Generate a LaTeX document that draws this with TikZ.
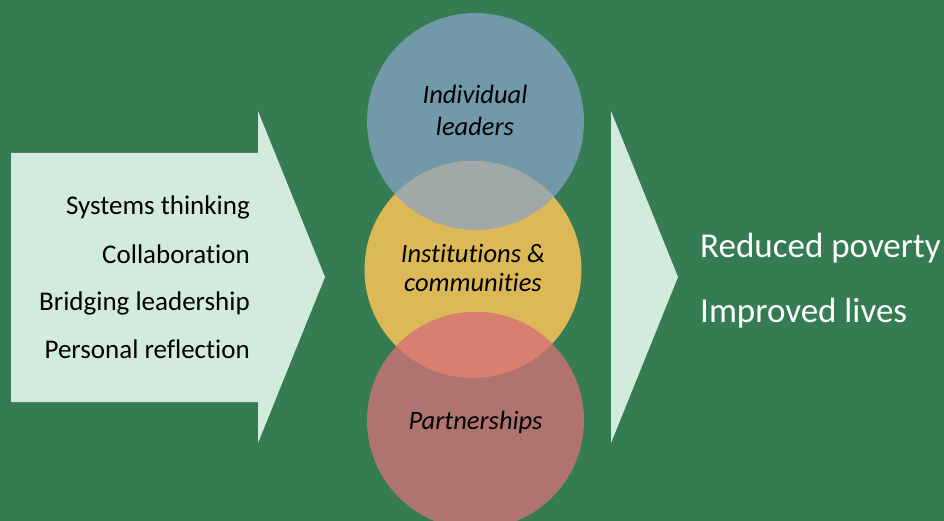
\documentclass[tikz,border=0pt]{standalone}
\usepackage{fontspec}
\setmainfont{Carlito}[Ligatures=NoCommon]
\usepackage{tikz}
\usetikzlibrary{positioning}

\definecolor{bggreen}{HTML}{367C52}
\definecolor{arrowfill}{HTML}{D3EBDC}
\definecolor{leaderblue}{HTML}{7299AA}
\definecolor{instyellow}{HTML}{DCB857}
\definecolor{partred}{HTML}{AF7370}
\definecolor{mixgrey}{HTML}{A1A9A8}
\definecolor{mixsalmon}{HTML}{D97F70}

\begin{document}
\begin{tikzpicture}[x=1pt, y=-1pt,
    item/.style={anchor=base east, inner sep=0pt, font=\fontsize{27}{32}\selectfont},
    outcome/.style={anchor=base west, inner sep=0pt, text=white, font=\fontsize{35}{40}\selectfont},
    ring/.style={circle, minimum size=217pt, inner sep=0pt},
    ringtext/.style={align=center, inner sep=0pt, font=\fontsize{26.5}{29}\selectfont\itshape}]
    % background
    \fill[bggreen] (0,0) rectangle (944,521);
    \useasboundingbox (0,0) rectangle (944,521);

    % input arrow and output chevron
    \fill[arrowfill] (11,153) -- (258,153) -- (258,111) -- (325,277) -- (258,443) -- (258,402) -- (11,402) -- cycle;
    \fill[arrowfill] (611,111) -- (678,277) -- (611,443) -- cycle;

    % the three rings
    \node[ring, fill=leaderblue] (leaders) at (475.5,121.5) {};
    \node[ring, fill=instyellow] (inst) at (473,269.5) {};
    \begin{scope}
        \clip (leaders.center) circle[radius=108.5pt];
        \fill[mixgrey] (inst.center) circle[radius=108.5pt];
    \end{scope}
    \node[ring, fill=partred] (partner) at (475.5,420.5) {};
    \begin{scope}
        \clip (inst.center) circle[radius=108.5pt];
        \fill[mixsalmon] (partner.center) circle[radius=108.5pt];
    \end{scope}

    \node[ringtext, font=\fontsize{26.5}{32}\selectfont\itshape] (leaderstxt) at (475,110) {Individual\\leaders};
    \node[ringtext] (insttxt) at (473,267.5) {Institutions \&\\communities};
    \node[ringtext] (partnertxt) at (475.5,422) {Partnerships};

    % skills
    \node[item] (sys) at (250,215) {Systems thinking};
    \node[item] (collab) at (250,263) {Collaboration};
    \node[item] (bridge) at (250,310) {Bridging leadership};
    \node[item] (reflect) at (250,358) {Personal reflection};

    % outcomes
    \node[outcome] (poverty) at (700,257) {Reduced poverty};
    \node[outcome] (lives) at (700,322) {Improved lives};
\end{tikzpicture}
\end{document}
